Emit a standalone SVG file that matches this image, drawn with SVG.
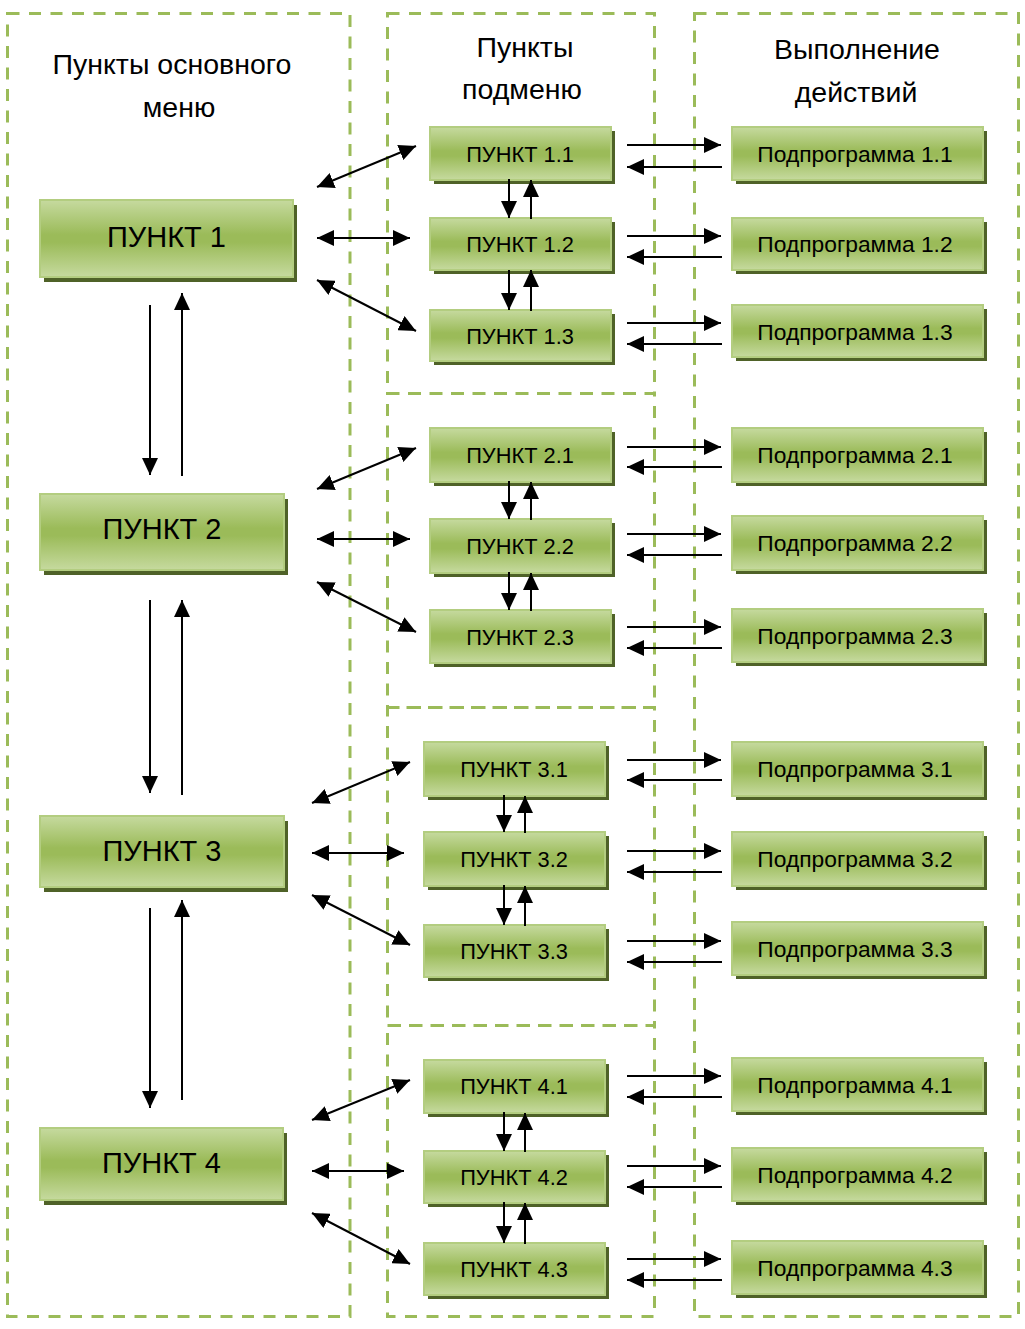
<svg xmlns="http://www.w3.org/2000/svg" width="1025" height="1329" viewBox="0 0 1025 1329">
<defs>
<linearGradient id="g" x1="0" y1="0" x2="0" y2="1">
<stop offset="0" stop-color="#C6DA9F"/>
<stop offset="0.45" stop-color="#9BBB59"/>
<stop offset="0.55" stop-color="#9BBB59"/>
<stop offset="1" stop-color="#C6DA9F"/>
</linearGradient>
<marker id="ah" markerUnits="userSpaceOnUse" markerWidth="17" markerHeight="16" refX="17" refY="8" orient="auto-start-reverse">
<path d="M0,0 L17,8 L0,16 z" fill="#000"/>
</marker>
<style>
.frame{fill:none;stroke:#9BBB59;stroke-width:3;stroke-dasharray:12 9.5}
.box{fill:url(#g);stroke:#B3CD80;stroke-width:2}
.sh{fill:#4F6228}
.t{font-family:"Liberation Sans",Arial,sans-serif;fill:#000;text-anchor:middle}
.tm{font-size:29px}
.ts{font-size:21.8px}
.tp{font-size:22.8px}
.th{font-size:28.5px}
.c{stroke:#000;stroke-width:2;fill:none}
.s{marker-end:url(#ah)}
.d{marker-start:url(#ah);marker-end:url(#ah)}
</style>
</defs>
<rect width="1025" height="1329" fill="#fff"/>
<g id="frames">
<rect class="frame" x="7.5" y="13.5" width="342.5" height="1303"/>
<rect class="frame" x="387.5" y="13.5" width="267" height="380"/>
<rect class="frame" x="387.5" y="393.5" width="267" height="314"/>
<rect class="frame" x="387.5" y="707.5" width="267" height="318"/>
<rect class="frame" x="387.5" y="1025.5" width="267" height="291"/>
<rect class="frame" x="694.5" y="13.5" width="324" height="1303"/>
</g>
<g id="headers">
<text class="t th" x="172" y="74">Пункты основного</text>
<text class="t th" x="179" y="117">меню</text>
<text class="t th" x="525" y="57">Пункты</text>
<text class="t th" x="522" y="99">подменю</text>
<text class="t th" x="857" y="59">Выполнение</text>
<text class="t th" x="856" y="102">действий</text>
</g>
<g id="main1"><rect class="sh" x="44" y="205" width="253" height="77"/><rect class="box" x="40" y="200" width="253" height="77"/><text class="t tm" x="166.5" y="247">ПУНКТ 1</text></g>
<g id="main2"><rect class="sh" x="44" y="499" width="244" height="76"/><rect class="box" x="40" y="494" width="244" height="76"/><text class="t tm" x="162" y="539">ПУНКТ 2</text></g>
<g id="main3"><rect class="sh" x="44" y="821" width="244" height="71"/><rect class="box" x="40" y="816" width="244" height="71"/><text class="t tm" x="162" y="861">ПУНКТ 3</text></g>
<g id="main4"><rect class="sh" x="44" y="1133" width="243" height="72"/><rect class="box" x="40" y="1128" width="243" height="72"/><text class="t tm" x="161.5" y="1173">ПУНКТ 4</text></g>

<g id="sub1_1"><rect class="sh" x="434" y="131" width="181" height="53"/><rect class="box" x="430" y="127" width="181" height="53"/><text class="t ts" x="520" y="162">ПУНКТ 1.1</text></g>
<g id="sub1_2"><rect class="sh" x="434" y="222" width="181" height="52"/><rect class="box" x="430" y="218" width="181" height="52"/><text class="t ts" x="520" y="252">ПУНКТ 1.2</text></g>
<g id="sub1_3"><rect class="sh" x="434" y="314" width="181" height="51"/><rect class="box" x="430" y="310" width="181" height="51"/><text class="t ts" x="520" y="344">ПУНКТ 1.3</text></g>
<g id="sub2_1"><rect class="sh" x="434" y="432" width="181" height="54"/><rect class="box" x="430" y="428" width="181" height="54"/><text class="t ts" x="520" y="463">ПУНКТ 2.1</text></g>
<g id="sub2_2"><rect class="sh" x="434" y="523" width="181" height="54"/><rect class="box" x="430" y="519" width="181" height="54"/><text class="t ts" x="520" y="554">ПУНКТ 2.2</text></g>
<g id="sub2_3"><rect class="sh" x="434" y="614" width="181" height="53"/><rect class="box" x="430" y="610" width="181" height="53"/><text class="t ts" x="520" y="645">ПУНКТ 2.3</text></g>
<g id="sub3_1"><rect class="sh" x="428" y="746" width="181" height="54"/><rect class="box" x="424" y="742" width="181" height="54"/><text class="t ts" x="514" y="777">ПУНКТ 3.1</text></g>
<g id="sub3_2"><rect class="sh" x="428" y="836" width="181" height="54"/><rect class="box" x="424" y="832" width="181" height="54"/><text class="t ts" x="514" y="867">ПУНКТ 3.2</text></g>
<g id="sub3_3"><rect class="sh" x="428" y="929" width="181" height="52"/><rect class="box" x="424" y="925" width="181" height="52"/><text class="t ts" x="514" y="959">ПУНКТ 3.3</text></g>
<g id="sub4_1"><rect class="sh" x="428" y="1064" width="181" height="53"/><rect class="box" x="424" y="1060" width="181" height="53"/><text class="t ts" x="514" y="1094">ПУНКТ 4.1</text></g>
<g id="sub4_2"><rect class="sh" x="428" y="1155" width="181" height="52"/><rect class="box" x="424" y="1151" width="181" height="52"/><text class="t ts" x="514" y="1185">ПУНКТ 4.2</text></g>
<g id="sub4_3"><rect class="sh" x="428" y="1247" width="181" height="52"/><rect class="box" x="424" y="1243" width="181" height="52"/><text class="t ts" x="514" y="1277">ПУНКТ 4.3</text></g>

<g id="prog1_1"><rect class="sh" x="736" y="131" width="251" height="53"/><rect class="box" x="732" y="127" width="251" height="53"/><text class="t tp" x="855" y="162">Подпрограмма 1.1</text></g>
<g id="prog1_2"><rect class="sh" x="736" y="222" width="251" height="52"/><rect class="box" x="732" y="218" width="251" height="52"/><text class="t tp" x="855" y="252">Подпрограмма 1.2</text></g>
<g id="prog1_3"><rect class="sh" x="736" y="309" width="251" height="52"/><rect class="box" x="732" y="305" width="251" height="52"/><text class="t tp" x="855" y="340">Подпрограмма 1.3</text></g>
<g id="prog2_1"><rect class="sh" x="736" y="432" width="251" height="54"/><rect class="box" x="732" y="428" width="251" height="54"/><text class="t tp" x="855" y="463">Подпрограмма 2.1</text></g>
<g id="prog2_2"><rect class="sh" x="736" y="520" width="251" height="54"/><rect class="box" x="732" y="516" width="251" height="54"/><text class="t tp" x="855" y="551">Подпрограмма 2.2</text></g>
<g id="prog2_3"><rect class="sh" x="736" y="613" width="251" height="53"/><rect class="box" x="732" y="609" width="251" height="53"/><text class="t tp" x="855" y="644">Подпрограмма 2.3</text></g>
<g id="prog3_1"><rect class="sh" x="736" y="746" width="251" height="54"/><rect class="box" x="732" y="742" width="251" height="54"/><text class="t tp" x="855" y="777">Подпрограмма 3.1</text></g>
<g id="prog3_2"><rect class="sh" x="736" y="836" width="251" height="54"/><rect class="box" x="732" y="832" width="251" height="54"/><text class="t tp" x="855" y="867">Подпрограмма 3.2</text></g>
<g id="prog3_3"><rect class="sh" x="736" y="926" width="251" height="53"/><rect class="box" x="732" y="922" width="251" height="53"/><text class="t tp" x="855" y="957">Подпрограмма 3.3</text></g>
<g id="prog4_1"><rect class="sh" x="736" y="1062" width="251" height="53"/><rect class="box" x="732" y="1058" width="251" height="53"/><text class="t tp" x="855" y="1093">Подпрограмма 4.1</text></g>
<g id="prog4_2"><rect class="sh" x="736" y="1152" width="251" height="53"/><rect class="box" x="732" y="1148" width="251" height="53"/><text class="t tp" x="855" y="1183">Подпрограмма 4.2</text></g>
<g id="prog4_3"><rect class="sh" x="736" y="1245" width="251" height="53"/><rect class="box" x="732" y="1241" width="251" height="53"/><text class="t tp" x="855" y="1276">Подпрограмма 4.3</text></g>

<g id="connectors">
<line class="c s" x1="150" y1="305" x2="150" y2="475"/>
<line class="c s" x1="182" y1="476" x2="182" y2="293"/>
<line class="c s" x1="150" y1="600" x2="150" y2="793"/>
<line class="c s" x1="182" y1="795" x2="182" y2="600"/>
<line class="c s" x1="150" y1="908" x2="150" y2="1108"/>
<line class="c s" x1="182" y1="1100" x2="182" y2="900"/>
<line class="c d" x1="317" y1="187" x2="416" y2="146"/>
<line class="c d" x1="317" y1="238" x2="410" y2="238"/>
<line class="c d" x1="317" y1="280" x2="416" y2="331"/>
<line class="c d" x1="317" y1="489" x2="416" y2="448"/>
<line class="c d" x1="317" y1="539" x2="410" y2="539"/>
<line class="c d" x1="317" y1="582" x2="416" y2="632"/>
<line class="c d" x1="312" y1="803" x2="410" y2="762"/>
<line class="c d" x1="312" y1="853" x2="404" y2="853"/>
<line class="c d" x1="312" y1="895" x2="410" y2="945"/>
<line class="c d" x1="312" y1="1120" x2="410" y2="1080"/>
<line class="c d" x1="312" y1="1171" x2="404" y2="1171"/>
<line class="c d" x1="312" y1="1213" x2="410" y2="1264"/>
<line class="c s" x1="509" y1="179" x2="509" y2="218"/>
<line class="c s" x1="531" y1="219" x2="531" y2="180"/>
<line class="c s" x1="509" y1="270" x2="509" y2="310"/>
<line class="c s" x1="531" y1="311" x2="531" y2="270"/>
<line class="c s" x1="509" y1="481" x2="509" y2="519"/>
<line class="c s" x1="531" y1="520" x2="531" y2="482"/>
<line class="c s" x1="509" y1="572" x2="509" y2="610"/>
<line class="c s" x1="531" y1="611" x2="531" y2="573"/>
<line class="c s" x1="504" y1="795" x2="504" y2="832"/>
<line class="c s" x1="525" y1="833" x2="525" y2="796"/>
<line class="c s" x1="504" y1="885" x2="504" y2="925"/>
<line class="c s" x1="525" y1="926" x2="525" y2="886"/>
<line class="c s" x1="504" y1="1112" x2="504" y2="1151"/>
<line class="c s" x1="525" y1="1152" x2="525" y2="1113"/>
<line class="c s" x1="504" y1="1202" x2="504" y2="1243"/>
<line class="c s" x1="525" y1="1244" x2="525" y2="1203"/>
<line class="c s" x1="627" y1="145" x2="721" y2="145"/>
<line class="c s" x1="722" y1="167" x2="627" y2="167"/>
<line class="c s" x1="627" y1="236" x2="721" y2="236"/>
<line class="c s" x1="722" y1="257" x2="627" y2="257"/>
<line class="c s" x1="627" y1="323" x2="721" y2="323"/>
<line class="c s" x1="722" y1="344" x2="627" y2="344"/>
<line class="c s" x1="627" y1="447" x2="721" y2="447"/>
<line class="c s" x1="722" y1="467" x2="627" y2="467"/>
<line class="c s" x1="627" y1="534" x2="721" y2="534"/>
<line class="c s" x1="722" y1="555" x2="627" y2="555"/>
<line class="c s" x1="627" y1="627" x2="721" y2="627"/>
<line class="c s" x1="722" y1="648" x2="627" y2="648"/>
<line class="c s" x1="627" y1="760" x2="721" y2="760"/>
<line class="c s" x1="722" y1="780" x2="627" y2="780"/>
<line class="c s" x1="627" y1="851" x2="721" y2="851"/>
<line class="c s" x1="722" y1="872" x2="627" y2="872"/>
<line class="c s" x1="627" y1="941" x2="721" y2="941"/>
<line class="c s" x1="722" y1="962" x2="627" y2="962"/>
<line class="c s" x1="627" y1="1076" x2="721" y2="1076"/>
<line class="c s" x1="722" y1="1097" x2="627" y2="1097"/>
<line class="c s" x1="627" y1="1166" x2="721" y2="1166"/>
<line class="c s" x1="722" y1="1187" x2="627" y2="1187"/>
<line class="c s" x1="627" y1="1259" x2="721" y2="1259"/>
<line class="c s" x1="722" y1="1280" x2="627" y2="1280"/>
</g>
</svg>
